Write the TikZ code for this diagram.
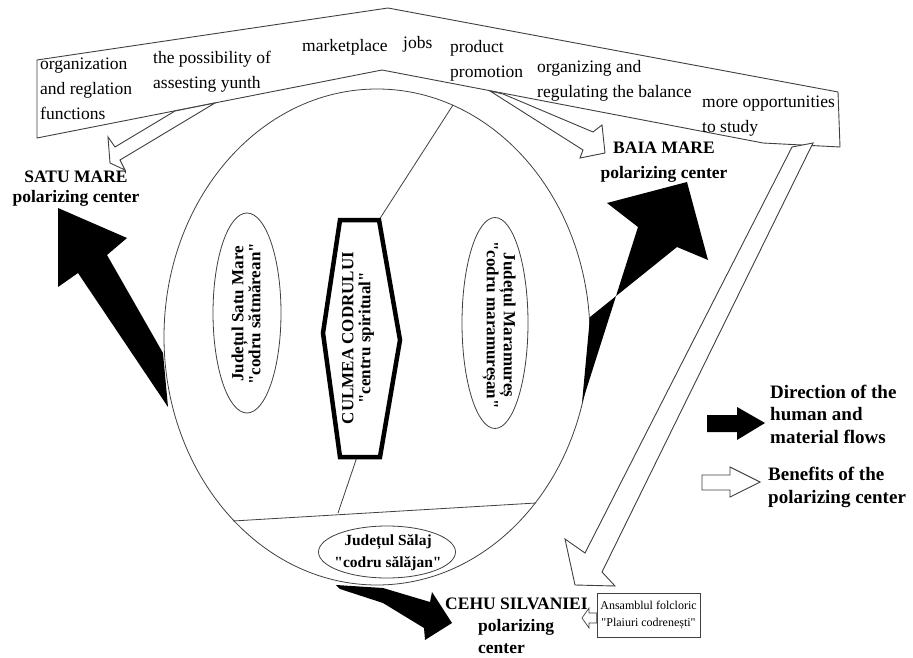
\documentclass[tikz,border=0pt]{standalone}
\usepackage{fontspec}
\setmainfont{Liberation Serif}[Ligatures=TeXOff]
\usetikzlibrary{shapes.geometric}
\begin{document}
\begin{tikzpicture}[x=1pt,y=-1pt,
  outline/.style={draw=black!75,line width=0.9pt},
  thinline/.style={draw=black!75,line width=0.8pt},
  blackarrow/.style={fill=black},
  whitearrow/.style={draw=black!75,fill=white,line width=0.9pt,line join=miter},
  bandtext/.style={font=\fontsize{17.5}{25}\selectfont,align=left,inner sep=0pt,anchor=base west},
  centerlabel/.style={font=\bfseries\fontsize{17.5}{25}\selectfont,align=center,inner sep=0pt},
  rottext/.style={font=\bfseries\fontsize{17}{17}\selectfont,align=center,inner sep=0pt},
  legendtext/.style={font=\bfseries\fontsize{19}{22.5}\selectfont,align=left,inner sep=0pt,anchor=base west},
  region/.style={ellipse,draw=black!75,line width=0.8pt,inner sep=0pt}
]
\useasboundingbox (0,0) rectangle (913,658);
\fill[white] (0,0) rectangle (913,658);

% top band
\draw[outline,fill=white] (37,60) -- (388,8) -- (838,92) -- (840,147) -- (763,143) -- (382,70) -- (37,138) -- cycle;

% (base anchor = baseline of the last line)
\node[bandtext] (t1) at (40,120) {organization\\and reglation\\functions};
\node[bandtext] (t2) at (153,89) {the possibility of\\assesting yunth};
\node[bandtext] (t3) at (302,52) {marketplace};
\node[bandtext] (t4) at (403,49) {jobs};
\node[bandtext] (t5) at (450,78) {product\\promotion};
\node[bandtext] (t6) at (537,98) {organizing and\\regulating the balance};
\node[bandtext] (t7) at (702,133) {more opportunities\\to study};

% big ellipse
\node[region,minimum width=426pt,minimum height=496pt] (big) at (377,337) {};

% hexagon vertices
\coordinate (h1) at (340,220);
\coordinate (h2) at (379,220);
\coordinate (h3) at (400,340);
\coordinate (h4) at (380,457);
\coordinate (h5) at (340,457);
\coordinate (h6) at (323,333);

% dividing lines
\coordinate (top) at (453,105);
\coordinate (dl) at (233,521);
\coordinate (dr) at (536,503);
\coordinate (dm) at (338,513);
\coordinate (hb) at (357,457);
\draw[thinline] (top) -- (h2);
\draw[thinline] (hb) -- (dm);
\draw[thinline] (dl) -- (dr);

\draw[line width=4.5pt,line join=miter,fill=white] (h1) -- (h2) -- (h3) -- (h4) -- (h5) -- (h6) -- cycle;
\node[rottext,rotate=90] (culmea) at (358,338) {CULMEA CODRULUI\\"centru spiritual"};

% inner ellipses
\node[region,minimum width=68pt,minimum height=200pt] (sm) at (247,313) {};
\node[rottext,rotate=90] (smt) at (246,314) {Județul Satu Mare\\"codru sătmărean"};
\node[region,minimum width=66pt,minimum height=211pt] (mm) at (495,323) {};
\node[rottext,rotate=-90] (mmt) at (499,325) {Județul Maramureș\\"codru maramureșan"};
\node[region,minimum width=137pt,minimum height=52pt] (sj) at (387,552) {};
\node[font=\bfseries\fontsize{15.5}{22}\selectfont,align=center,inner sep=0pt] (sjt) at (388,553) {Județul Sălaj\\"codru sălăjan"};

% black arrows
\fill[blackarrow] (168,407) -- (78,273) -- (58,287) -- (58,208) -- (127,238) -- (107,255) -- (163,353) -- cycle;
\fill[blackarrow] (582,403) -- (638,227) -- (607,203) -- (687,182) -- (708,260) -- (677,247) -- (590,317) -- cycle;
\fill[blackarrow] (336,585) -- (383,588) -- (430,602) -- (432,592) -- (452,623) -- (425,640) -- (424,628) -- (383,603) -- (340,589) -- cycle;

% white arrows
\draw[whitearrow] (175,111) -- (115,147) -- (108,137) -- (110,163) -- (125,170) -- (120,160) -- (215,103) -- cycle;
\draw[whitearrow] (490,91) -- (583,150) -- (580,158) -- (605,153) -- (602,125) -- (593,132) -- (503,94) -- cycle;
\draw[whitearrow] (792,147) -- (585,553) -- (565,539) -- (575,585) -- (615,586) -- (602,572) -- (813,143) -- cycle;

% center labels
\node[centerlabel,font=\bfseries\fontsize{17.5}{20}\selectfont] (satu) at (76,189) {SATU MARE\\polarizing center};
\node[centerlabel] (baia) at (664,162) {BAIA MARE\\polarizing center};
\node[font=\bfseries\fontsize{17.5}{22}\selectfont,align=left,inner sep=0pt,anchor=base west] (cehu) at (445,653) {CEHU SILVANIEI\\\hspace*{33pt}polarizing\\\hspace*{33pt}center};

% ansamblu box
\node[draw=black!75,line width=0.8pt,minimum width=103pt,minimum height=44pt,inner sep=1pt,align=center,font=\fontsize{12}{17}\selectfont] (ans) at (648.5,615) {Ansamblul folcloric\\"Plaiuri codrenești"};
\draw[whitearrow,line width=0.7pt] (582,618) -- (589,608) -- (589,613) -- (ans.west |- 0,613) -- (ans.west |- 0,623) -- (589,623) -- (589,628) -- cycle;

% legend
\fill[blackarrow] (707,415) -- (737,415) -- (737,407) -- (765,423) -- (737,440) -- (737,432) -- (707,432) -- cycle;
\draw[whitearrow] (702,475) -- (730,475) -- (730,467) -- (760,482) -- (730,497) -- (730,490) -- (702,490) -- cycle;
\node[legendtext] (leg1) at (770,443) {Direction of the\\human and\\material flows};
\node[legendtext] (leg2) at (768,503) {Benefits of the\\polarizing center};
\end{tikzpicture}
\end{document}
